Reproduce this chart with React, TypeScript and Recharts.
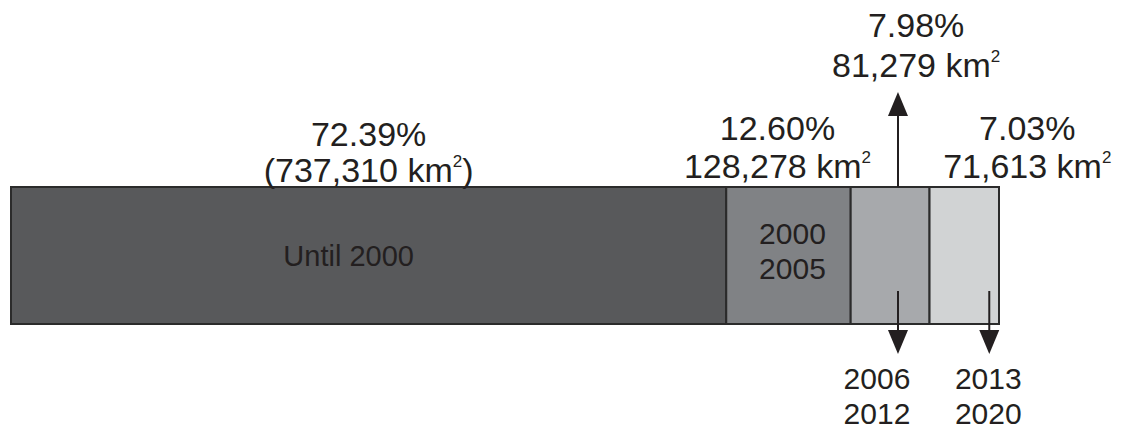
import React from 'react';
import { BarChart, Bar, XAxis, YAxis } from 'recharts';

// one stacked bar: deforested area by period
const periods = ['Until 2000', '2000-2005', '2006-2012', '2013-2020'];
const areasKm2 = [737310, 128278, 81279, 71613];
const shares = ['72.39%', '12.60%', '7.98%', '7.03%'];
const innerLabels = [['Until 2000'], ['2000', '2005'], [], []];
const belowLabels = [[], [], ['2006', '2012'], ['2013', '2020']];

const keys = periods.map((_, i) => `p${i}`);
const row: Record<string, number | string> = { name: 'area' };
keys.forEach((k, i) => (row[k] = areasKm2[i]));
const data = [row];
const total = areasKm2.reduce((a, b) => a + b, 0);

const fills = ['#58595b', '#808285', '#a7a9ac', '#d1d3d4'];
const INK = '#231f20';
const FONT = '"Liberation Sans", Arial, sans-serif';

// per segment placement tweaks (px from segment centre)
const topDx = [0, -11, 26, 63];
const topRise = [5, 9, 110, 9]; // baseline of 2nd line above bar top
const lineGap = [36, 38, 40, 38];
const innerDx = [-20, 4, 0, 0];
const arrowFrac = [0, 0, 0.6, 0.86];
const belowDx = [0, 0, -21, -1];

function Arrow({ x, y1, y2 }: { x: number; y1: number; y2: number }) {
  const dir = y2 > y1 ? 1 : -1;
  const head = 24;
  const base = y2 - dir * head;
  return (
    <g>
      <line x1={x} y1={y1} x2={x} y2={base} stroke={INK} strokeWidth={2} />
      <polygon points={`${x - 10},${base} ${x + 10},${base} ${x},${y2}`} fill={INK} />
    </g>
  );
}

function Segment(props: any) {
  const { x, y, width, height, fill } = props;
  const i: number = props.i;
  const cx = x + width / 2;
  const areaText = areasKm2[i].toLocaleString('en-US');
  const tx = cx + topDx[i];
  const base2 = y - topRise[i];
  const ax = x + width * arrowFrac[i];
  return (
    <g>
      <rect x={x} y={y} width={width} height={height} fill={fill} stroke="#2b2b2b" strokeWidth={2} />
      <text x={tx} y={base2 - lineGap[i]} textAnchor="middle" fontFamily={FONT} fontSize={34} fill={INK}>
        {shares[i]}
      </text>
      <text x={tx} y={base2} textAnchor="middle" fontFamily={FONT} fontSize={34} fill={INK}>
        {i === 0 ? '(' : ''}
        {areaText} km
        <tspan fontSize={17} dy={-15}>2</tspan>
        {i === 0 ? <tspan dy={15}>)</tspan> : null}
      </text>
      {innerLabels[i].map((t, k) => (
        <text
          key={t}
          x={cx + innerDx[i]}
          y={y + height / 2 + (innerLabels[i].length === 1 ? 10 : -12 + k * 35)}
          textAnchor="middle"
          fontFamily={FONT}
          fontSize={i === 0 ? 29 : 30}
          fill={INK}
        >
          {t}
        </text>
      ))}
      {i === 2 ? <Arrow x={ax} y1={y} y2={y - 95} /> : null}
      {i >= 2 ? <Arrow x={ax} y1={y + 104} y2={y + height + 30} /> : null}
      {belowLabels[i].map((t, k) => (
        <text
          key={t}
          x={ax + belowDx[i]}
          y={y + height + 65 + k * 35}
          textAnchor="middle"
          fontFamily={FONT}
          fontSize={30}
          fill={INK}
        >
          {t}
        </text>
      ))}
    </g>
  );
}

export default function App() {
  return (
    <div style={{ position: 'absolute', left: 0, top: 0, background: '#fff' }}>
      <BarChart
        width={1121}
        height={430}
        data={data}
        layout="vertical"
        margin={{ top: 187, right: 122, bottom: 106, left: 11 }}
        barCategoryGap={0}
      >
        <XAxis type="number" hide domain={[0, total]} />
        <YAxis type="category" dataKey="name" hide />
        {keys.map((k, i) => (
          <Bar
            key={k}
            dataKey={k}
            stackId="a"
            fill={fills[i]}
            isAnimationActive={false}
            shape={(p: any) => <Segment {...p} i={i} />}
          />
        ))}
      </BarChart>
    </div>
  );
}
